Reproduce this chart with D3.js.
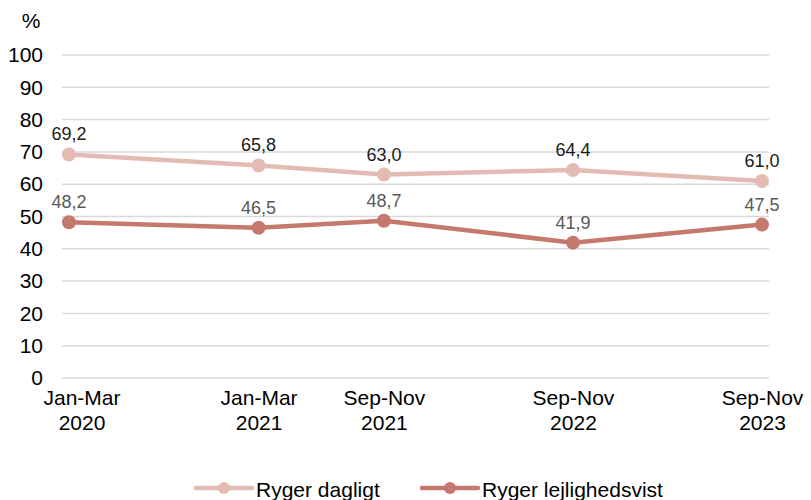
<!DOCTYPE html>
<html>
<head>
<meta charset="utf-8">
<script src="https://cdn.jsdelivr.net/npm/d3@7"></script>
<style>
  body { margin: 0; background: #fff; }
  text { font-family: "Liberation Sans", Arial, sans-serif; }
</style>
</head>
<body>
<div id="chart"></div>
<script>
// Data
var periods = ["Jan-Mar 2020", "Jan-Mar 2021", "Sep-Nov 2021", "Sep-Nov 2022", "Sep-Nov 2023"];
var periodDates = ["2020-02-15", "2021-02-15", "2021-10-15", "2022-10-15", "2023-10-15"];
var dagligt = [69.2, 65.8, 63.0, 64.4, 61.0];
var lejlighedsvist = [48.2, 46.5, 48.7, 41.9, 47.5];
var seriesNames = ["Ryger dagligt", "Ryger lejlighedsvist"];
var yTicks = [0, 10, 20, 30, 40, 50, 60, 70, 80, 90, 100];

var colors = ["#e4bbb3", "#c5786c"];
var labelColors = ["#1a1a1a", "#595959"];

var width = 811, height = 500;
var margin = { top: 55, right: 42, bottom: 122, left: 62 };
var innerW = width - margin.left - margin.right;
var innerH = height - margin.top - margin.bottom;

var svg = d3.select("#chart")
  .append("svg")
  .attr("width", width)
  .attr("height", height);

var g = svg.append("g")
  .attr("transform", "translate(" + margin.left + "," + margin.top + ")");

var parse = d3.timeParse("%Y-%m-%d");
var dates = periodDates.map(parse);

// x er en tidsskala, fordi perioderne ikke ligger med lige stor afstand
var x = d3.scaleTime()
  .domain(d3.extent(dates))
  .range([7, innerW - 7]);

var y = d3.scaleLinear()
  .domain([0, 100])
  .range([innerH, 0]);

// gridlines
g.append("g")
  .selectAll("line")
  .data(yTicks)
  .enter().append("line")
  .attr("x1", 0)
  .attr("x2", innerW)
  .attr("y1", function(d) { return y(d); })
  .attr("y2", function(d) { return y(d); })
  .attr("stroke", "#d9d9d9")
  .attr("stroke-width", 1.5);

// y axis labels
var yAxis = g.append("g")
  .call(d3.axisLeft(y).tickValues(yTicks).tickSize(0).tickPadding(19));
yAxis.select(".domain").remove();
yAxis.selectAll("text")
  .attr("font-size", "21px")
  .attr("fill", "#000")
  .style("font-family", "Liberation Sans, Arial, sans-serif");

svg.append("text")
  .attr("x", 31)
  .attr("y", 28)
  .attr("text-anchor", "middle")
  .attr("font-size", "21px")
  .text("%");

// x axis labels (two lines)
var xAxis = g.append("g")
  .attr("transform", "translate(0," + innerH + ")")
  .call(d3.axisBottom(x).tickValues(dates).tickSize(0).tickFormat(function() { return ""; }));
xAxis.select(".domain").remove();
xAxis.selectAll(".tick text").remove();
xAxis.selectAll(".tick").each(function(d, i) {
  var parts = periods[i].split(" ");
  var t = d3.select(this).append("text")
    .attr("text-anchor", "middle")
    .attr("font-size", "21px")
    .attr("fill", "#000")
    .style("font-family", "Liberation Sans, Arial, sans-serif");
  t.append("tspan").attr("x", 0).attr("y", 27).text(parts[0]);
  t.append("tspan").attr("x", 0).attr("y", 52).text(parts[1]);
  // hold labels inden for figuren ligesom i Excel
  var bb = this.getBBox ? t.node().getBBox() : null;
  var cx = x(d) + margin.left;
  var minLeft = 43, maxRight = 807;
  var shift = 0;
  if (bb) {
    if (cx - bb.width / 2 < minLeft) shift = minLeft - (cx - bb.width / 2);
    if (cx + bb.width / 2 > maxRight) shift = maxRight - (cx + bb.width / 2);
  }
  t.attr("transform", "translate(" + shift + ",0)");
});

// lines
var allSeries = [dagligt, lejlighedsvist];
var line = d3.line()
  .x(function(d, i) { return x(dates[i]); })
  .y(function(d) { return y(d); });

allSeries.forEach(function(vals, s) {
  g.append("path")
    .datum(vals)
    .attr("fill", "none")
    .attr("stroke", colors[s])
    .attr("stroke-width", 4.5)
    .attr("stroke-linejoin", "round")
    .attr("d", line);

  g.selectAll(".dot" + s)
    .data(vals)
    .enter().append("circle")
    .attr("cx", function(d, i) { return x(dates[i]); })
    .attr("cy", function(d) { return y(d); })
    .attr("r", 7)
    .attr("fill", colors[s]);

  g.selectAll(".lbl" + s)
    .data(vals)
    .enter().append("text")
    .attr("x", function(d, i) { return x(dates[i]); })
    .attr("y", function(d) { return y(d) - 14; })
    .attr("text-anchor", "middle")
    .attr("font-size", "18px")
    .attr("fill", labelColors[s])
    .text(function(d) { return d3.format(".1f")(d).replace(".", ","); });
});

// legend
var legendX = [196, 422];
seriesNames.forEach(function(name, s) {
  var lg = svg.append("g").attr("transform", "translate(" + legendX[s] + ",488)");
  lg.append("line")
    .attr("x1", 0).attr("x2", 56)
    .attr("stroke", colors[s])
    .attr("stroke-width", 4.5)
    .attr("stroke-linecap", "round");
  lg.append("circle")
    .attr("cx", 28).attr("r", 6)
    .attr("fill", colors[s]);
  lg.append("text")
    .attr("x", 60)
    .attr("y", 9)
    .attr("font-size", "21px")
    .attr("fill", "#000")
    .text(name);
});
</script>
</body>
</html>
